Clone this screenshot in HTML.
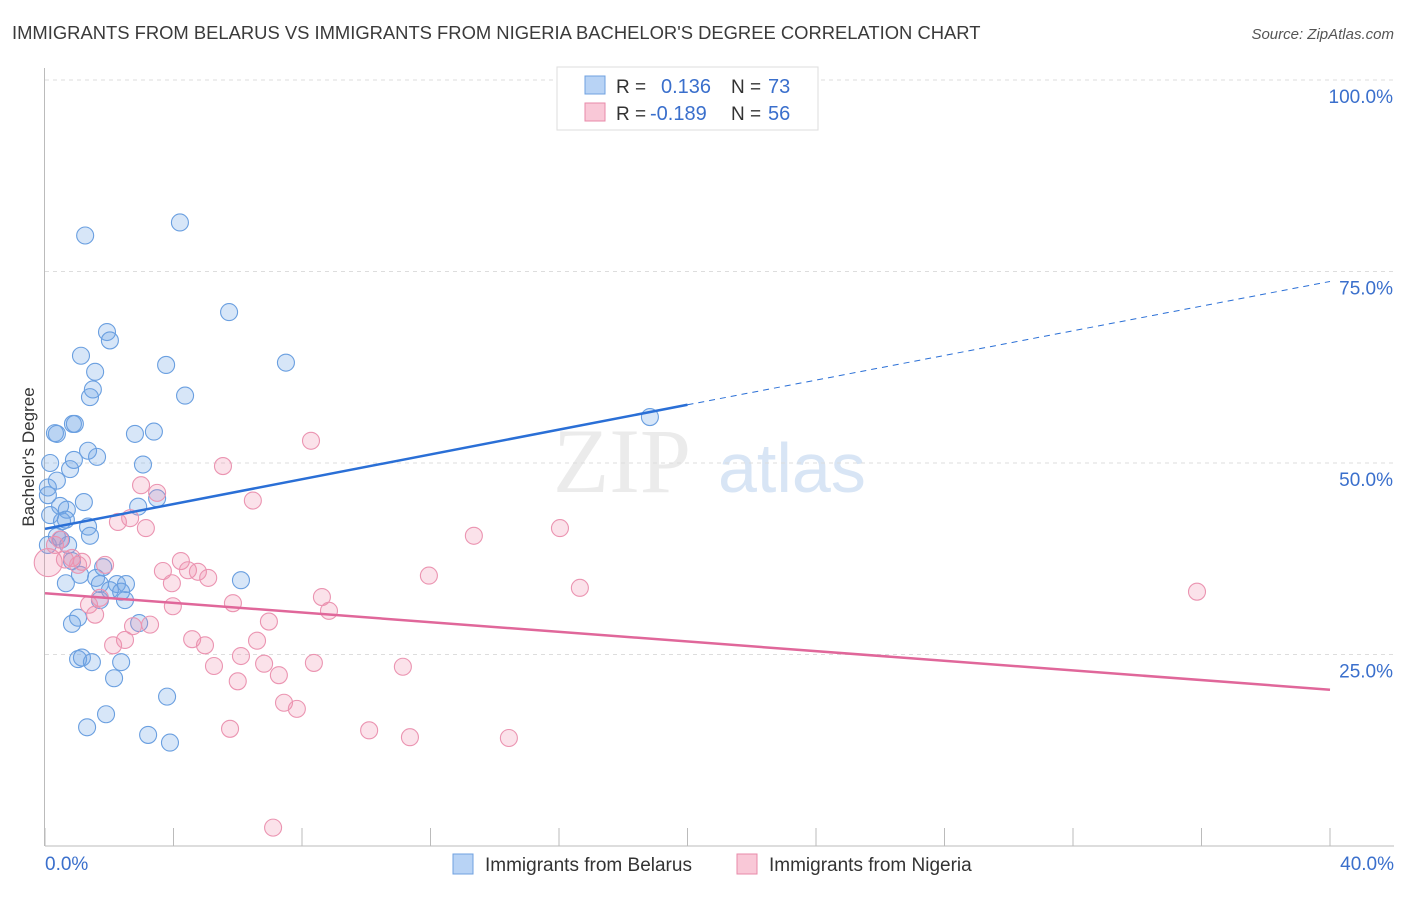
<!DOCTYPE html>
<html><head><meta charset="utf-8"><style>
body{margin:0;background:#fff;font-family:"Liberation Sans",sans-serif}
</style></head><body>
<svg width="1406" height="892" xmlns="http://www.w3.org/2000/svg" font-family="Liberation Sans, sans-serif">
<text x="12" y="39" font-size="18.4" fill="#3a3a3a">IMMIGRANTS FROM BELARUS VS IMMIGRANTS FROM NIGERIA BACHELOR'S DEGREE CORRELATION CHART</text>
<text x="1394" y="39" font-size="15" font-style="italic" fill="#555" text-anchor="end">Source: ZipAtlas.com</text>
<g><text x="553" y="492" font-size="92" font-family="Liberation Serif, serif" fill="#ebebeb">ZIP</text><text x="718" y="492" font-size="70" fill="#d8e5f5">atlas</text></g>
<g id="grid"></g>
<g id="axes"></g>
<g id="pts"></g>
<g id="lines"></g>
<text transform="translate(34,457) rotate(-90)" font-size="17" fill="#333" text-anchor="middle">Bachelor's Degree</text>
<g>
<rect x="557" y="67" width="261" height="63" fill="#fff" stroke="#ddd"/>
<rect x="585" y="76" width="20" height="18" fill="#b8d3f5" stroke="#6fa0e0"/>
<rect x="585" y="103" width="20" height="18" fill="#f9c8d7" stroke="#e88aa8"/>
<text x="616" y="93" font-size="19" fill="#333">R = </text><text x="661" y="93" font-size="20" fill="#3a6fcc">0.136</text>
<text x="731" y="93" font-size="19" fill="#333">N = </text><text x="768" y="93" font-size="20" fill="#3a6fcc">73</text>
<text x="616" y="120" font-size="19" fill="#333">R = </text><text x="650" y="120" font-size="20" fill="#3a6fcc">-0.189</text>
<text x="731" y="120" font-size="19" fill="#333">N = </text><text x="768" y="120" font-size="20" fill="#3a6fcc">56</text>
</g>
<g>
<rect x="453" y="854" width="20" height="20" fill="#b8d3f5" stroke="#6fa0e0"/>
<text x="485" y="871" font-size="19" fill="#333">Immigrants from Belarus</text>
<rect x="737" y="854" width="20" height="20" fill="#f9c8d7" stroke="#e88aa8"/>
<text x="769" y="871" font-size="19" fill="#333">Immigrants from Nigeria</text>
</g>
</svg>
<script>
const yTicks=[25,50,75,100];
const yTickLabels=["25.0%","50.0%","75.0%","100.0%"];
const xTicks=[0,4,8,12,16,20,24,28,32,36,40];
const xEndLabels=["0.0%","40.0%"];
const belarusX=[1.25,4.2,5.73,1.93,2.02,1.12,3.77,7.5,1.56,1.49,1.4,4.36,18.83,0.87,0.93,0.31,0.37,2.8,3.39,1.34,1.62,0.9,0.16,3.05,0.78,0.37,0.09,3.49,1.21,0.47,0.68,2.9,0.16,0.53,0.65,1.34,1.4,0.37,0.5,0.72,0.09,0.84,1.09,1.81,1.59,1.71,2.24,2.52,2.02,2.37,2.49,0.65,6.1,1.71,1.03,0.84,2.93,1.03,1.15,1.46,2.37,2.15,3.8,1.9,1.31,3.21,3.89,0.09];
const belarusY=[79.7,81.4,69.7,67.1,66.0,64.0,62.8,63.1,61.9,59.6,58.6,58.8,56.0,55.1,55.1,53.9,53.8,53.8,54.1,51.6,50.8,50.4,50.0,49.8,49.2,47.7,46.8,45.4,44.9,44.4,43.9,44.3,43.2,42.4,42.6,41.7,40.5,40.4,40.0,39.3,39.3,37.2,35.4,36.4,35.0,34.2,34.2,34.2,33.4,33.2,32.1,34.3,34.7,32.1,29.8,29.0,29.1,24.4,24.6,24.0,24.0,21.9,19.5,17.2,15.5,14.5,13.5,45.8];
const nigeriaX=[0.1,0.31,0.47,0.62,0.84,1.15,1.03,1.87,1.37,1.71,1.56,2.12,2.49,2.27,2.65,3.14,2.99,3.49,3.27,2.74,5.54,6.47,8.28,3.67,3.95,4.23,4.45,4.76,5.08,3.98,5.85,4.58,4.98,5.26,6.1,6.0,6.6,6.97,6.82,7.28,8.62,8.84,8.37,7.44,7.84,5.76,7.1,10.09,11.36,11.14,11.95,13.35,16.03,16.65,14.44,35.86];
const nigeriaY=[37.0,39.3,40.0,37.4,37.6,37.1,36.7,36.7,31.5,32.4,30.2,26.2,26.9,42.3,42.8,41.5,47.1,46.1,28.9,28.7,49.6,45.1,52.9,35.9,34.3,37.2,36.0,35.8,35.0,31.3,31.7,27.0,26.2,23.5,24.8,21.5,26.8,29.3,23.8,22.3,32.5,30.7,23.9,18.7,17.9,15.3,2.4,15.1,14.2,23.4,35.3,40.5,41.5,33.7,14.1,33.2];
const belarusFit=[41.4,57.6,73.7]; // at x=0,20,40
const nigeriaFit=[33.0,20.4]; // at x=0,40
const NS="http://www.w3.org/2000/svg";
const X=v=>45+v/40*1285, Y=v=>846-v/100*766;
function mk(tag,at,parent){const e=document.createElementNS(NS,tag);for(const k in at)e.setAttribute(k,at[k]);document.getElementById(parent).appendChild(e);return e;}
yTicks.forEach((t,i)=>{
 const l=mk('line',{x1:45,x2:1394,y1:Y(t),y2:Y(t),stroke:'#ddd','stroke-dasharray':'4,4'},'grid');
 
 
 const tx=mk('text',{x:1393,y:Y(t)+23,'font-size':19,fill:'#3a6fcc','text-anchor':'end'},'axes');
 tx.textContent=yTickLabels[i];
 
 
});
const ax=mk('line',{x1:44.5,x2:44.5,y1:68,y2:846,stroke:'#bbb'},'axes');


const bx=mk('line',{x1:45,x2:1394,y1:846,y2:846,stroke:'#bbb'},'axes');


xTicks.forEach(t=>{const l=mk('line',{x1:X(t),x2:X(t),y1:828,y2:846,stroke:'#bbb'},'axes');
 
 });
[[0,'start',45],[40,'end',1394]].forEach((d,i)=>{const t=mk('text',{x:d[2],y:870,'font-size':19,fill:'#3a6fcc','text-anchor':d[1]},'axes');t.textContent=xEndLabels[i];
 
 });
belarusX.forEach((v,i)=>{const c=mk('circle',{cx:X(v),cy:Y(belarusY[i]),r:8.5,fill:'rgba(110,165,230,0.28)',stroke:'#6a9fe0','stroke-width':1.1},'pts');
 
 });
nigeriaX.forEach((v,i)=>{const c=mk('circle',{cx:X(v),cy:Y(nigeriaY[i]),r:i==0?14:8.5,fill:'rgba(240,140,170,0.25)',stroke:'#eb94b1','stroke-width':1.1},'pts');
 
 });
let l=mk('line',{x1:X(0),y1:Y(belarusFit[0]),x2:X(20),y2:Y(belarusFit[1]),stroke:'#2a6fd6','stroke-width':2.5},'lines');


l=mk('line',{x1:X(20),y1:Y(belarusFit[1]),x2:X(40),y2:Y(belarusFit[2]),stroke:'#2a6fd6','stroke-width':1,'stroke-dasharray':'6,5'},'lines');


l=mk('line',{x1:X(0),y1:Y(nigeriaFit[0]),x2:X(40),y2:Y(nigeriaFit[1]),stroke:'#e0679a','stroke-width':2.5},'lines');


</script>
</body></html>
